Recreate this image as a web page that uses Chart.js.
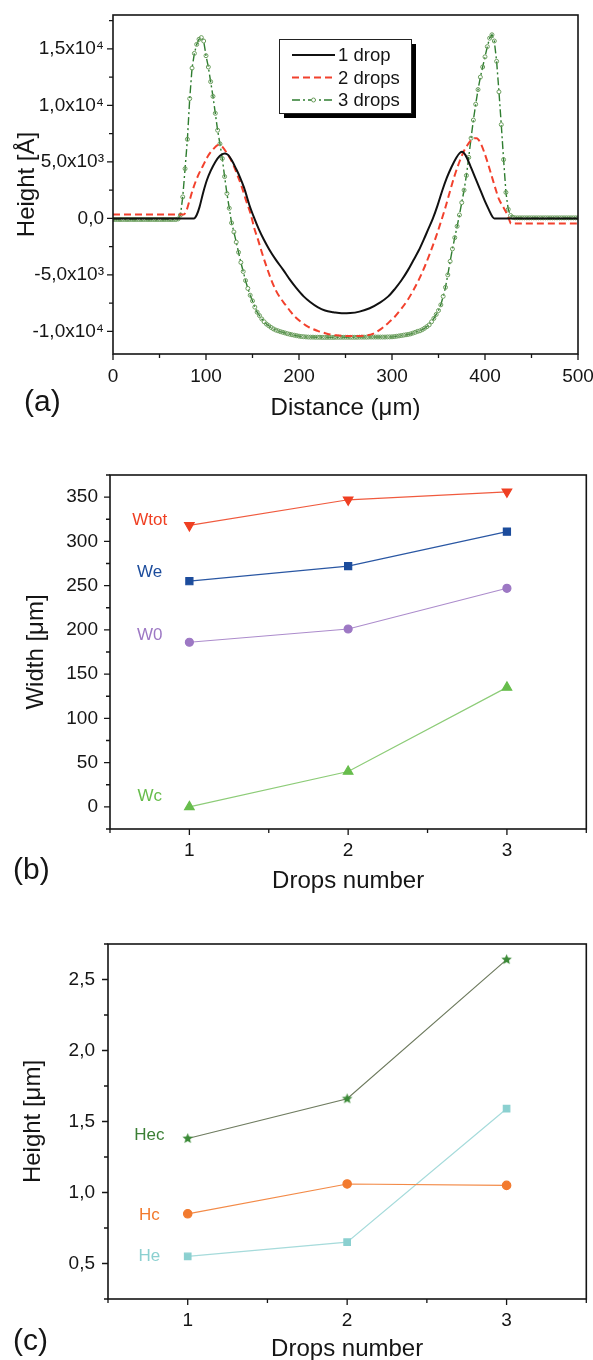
<!DOCTYPE html>
<html>
<head>
<meta charset="utf-8">
<title>Drop profiles and dimensions</title>
<script src="https://cdn.jsdelivr.net/npm/chart.js@4.4.1/dist/chart.umd.min.js"></script>
<style>
  body { margin: 0; background: #fff; }
  canvas { position: absolute; left: 0; }
</style>
</head>
<body>
<canvas id="profileChart" style="top:0" width="593" height="430"></canvas>
<canvas id="widthChart" style="top:440px" width="593" height="460"></canvas>
<canvas id="heightChart" style="top:900px" width="593" height="470"></canvas>
<script>
// (a) surface profiles: [distance µm, height Å]
const drop1 = [
  [0, 0], [40, 0], [80, 0], [87, 0], [90, 300], [93, 1000], [97, 2300], [101, 3400], [105, 4200],
  [110, 5000], [115, 5550], [120, 5750], [124, 5600], [128, 5100], [132, 4450], [136, 3750],
  [141, 2700], [147, 1100], [152, 0], [157, -1000], [162, -1850], [168, -2750], [175, -3650],
  [183, -4550], [190, -5400], [197, -6150], [205, -6900], [212, -7400], [220, -7850], [228, -8150],
  [237, -8300], [246, -8400], [255, -8380], [265, -8250], [276, -7950], [287, -7450], [296, -6900],
  [303, -6250], [310, -5500], [317, -4600], [323, -3700], [329, -2800], [334, -1900], [339, -950],
  [344, 0], [349, 1150], [354, 2450], [359, 3600], [364, 4550], [369, 5350], [373, 5800], [375.5, 5900],
  [379, 5600], [384, 4700], [390, 3500], [395, 2500], [400, 1500], [404, 800], [408, 150], [410, 0],
  [450, 0], [500, 0]
];
const drop2 = [
  [0, 350], [40, 350], [76, 350], [79, 700], [82, 1500], [86, 2600], [91, 3700], [97, 4700],
  [102, 5500], [108, 6150], [113, 6500], [118, 6300], [123, 5700], [128, 5000], [133, 4000],
  [138, 2900], [143, 1600], [148, 400], [152, -900], [156, -1900], [160, -3000], [165, -4250],
  [170, -5400], [175, -6350], [180, -7050], [185, -7600], [190, -8150], [195, -8650], [202, -9150],
  [210, -9600], [220, -9950], [230, -10200], [240, -10350], [250, -10400], [260, -10400],
  [270, -10380], [280, -10200], [288, -9800], [296, -9250], [303, -8700], [310, -8000], [317, -7200],
  [323, -6350], [329, -5400], [335, -4300], [341, -3050], [347, -1700], [352, -450], [357, 850],
  [362, 2300], [367, 3700], [372, 4900], [377, 5900], [382, 6600], [387, 7050], [391, 7100],
  [395, 6700], [399, 5900], [403, 4900], [407, 3800], [411, 2700], [415, 1700], [419, 1100],
  [423, 500], [426, -100], [428, -450], [450, -450], [500, -450]
];
const drop3Dist = [
  0, 2.5, 5, 7.5, 10, 12.5, 15, 17.5, 20, 22.5, 25, 27.5, 30, 32.5, 35, 37.5, 40, 42.5, 45, 47.5,
  50, 52.5, 55, 57.5, 60, 62.5, 65, 67.5, 70, 72.5, 75, 77.5, 80, 82.5, 85, 87.5, 90, 92.5, 95, 97.5,
  100, 102.5, 105, 107.5, 110, 112.5, 115, 117.5, 120, 122.5, 125, 127.5, 130, 132.5, 135, 137.5, 140, 142.5, 145, 147.5,
  150, 152.5, 155, 157.5, 160, 162.5, 165, 167.5, 170, 172.5, 175, 177.5, 180, 182.5, 185, 187.5, 190, 192.5, 195, 197.5,
  200, 202.5, 205, 207.5, 210, 212.5, 215, 217.5, 220, 222.5, 225, 227.5, 230, 232.5, 235, 237.5, 240, 242.5, 245, 247.5,
  250, 252.5, 255, 257.5, 260, 262.5, 265, 267.5, 270, 272.5, 275, 277.5, 280, 282.5, 285, 287.5, 290, 292.5, 295, 297.5,
  300, 302.5, 305, 307.5, 310, 312.5, 315, 317.5, 320, 322.5, 325, 327.5, 330, 332.5, 335, 337.5, 340, 342.5, 345, 347.5,
  350, 352.5, 355, 357.5, 360, 362.5, 365, 367.5, 370, 372.5, 375, 377.5, 380, 382.5, 385, 387.5, 390, 392.5, 395, 397.5,
  400, 402.5, 405, 407.5, 410, 412.5, 415, 417.5, 420, 422.5, 425, 427.5, 430, 432.5, 435, 437.5, 440, 442.5, 445, 447.5,
  450, 452.5, 455, 457.5, 460, 462.5, 465, 467.5, 470, 472.5, 475, 477.5, 480, 482.5, 485, 487.5, 490, 492.5, 495, 497.5,
  500
];
const drop3Height = [
  -100, -100, -100, -100, -100, -100, -100, -100, -100, -100, -100, -100, -100, -100, -100, -100, -100, -100, -100, -100,
  -100, -100, -100, -100, -100, -100, -100, -100, -50, 300, 1900, 4400, 7000, 10600, 13300, 14600, 15400, 15850, 16000, 15700,
  14400, 13400, 12100, 10800, 9300, 7800, 6600, 5300, 3700, 2200, 900, -400, -1200, -2100, -3000, -3900, -4700, -5500, -6200, -6800,
  -7300, -7850, -8300, -8600, -8900, -9150, -9350, -9500, -9650, -9780, -9880, -9950, -10020, -10080, -10140, -10200, -10250, -10300, -10340, -10380,
  -10420, -10450, -10470, -10490, -10500, -10510, -10510, -10520, -10520, -10520, -10530, -10530, -10530, -10530, -10530, -10530, -10520, -10520, -10520, -10520,
  -10520, -10520, -10520, -10520, -10520, -10520, -10510, -10510, -10510, -10510, -10500, -10500, -10500, -10500, -10500, -10500, -10500, -10500, -10490, -10490,
  -10480, -10460, -10430, -10400, -10370, -10330, -10300, -10270, -10220, -10150, -10080, -10000, -9950, -9850, -9720, -9580, -9420, -9150, -8850, -8500,
  -8150, -7650, -6900, -6100, -5000, -3800, -2700, -1700, -700, 300, 1400, 2500, 3800, 5400, 7100, 8700, 10100, 11400, 12500, 13400,
  14300, 15200, 15950, 16250, 15700, 13900, 11200, 8300, 5200, 2300, 800, 250, 100, 50, 50, 50, 50, 50, 50, 50,
  50, 50, 50, 50, 50, 50, 50, 50, 50, 50, 50, 50, 50, 50, 50, 50, 50, 50, 50, 50,
  50
];
const distanceTicks = [0, 100, 200, 300, 400, 500];
const heightTicks = [-10000, -5000, 0, 5000, 10000, 15000];
const heightTickLabels = ['-1,0x10⁴', '-5,0x10³', '0,0', '5,0x10³', '1,0x10⁴', '1,5x10⁴'];

// (b) widths in µm vs number of drops
const drops = [1, 2, 3];
const wTot = [318, 347, 356];
const wE = [255, 272, 311];
const w0 = [186, 201, 247];
const wC = [0, 40, 135];
const widthTicks = [0, 50, 100, 150, 200, 250, 300, 350];

// (c) heights in µm vs number of drops
const hEc = [1.38, 1.66, 2.64];
const hC = [0.85, 1.06, 1.05];
const hE = [0.55, 0.65, 1.59];
const heightUmTicks = [0.5, 1.0, 1.5, 2.0, 2.5];
const heightUmLabels = ['0,5', '1,0', '1,5', '2,0', '2,5'];

const FONT = '"Liberation Sans", Arial, Helvetica, sans-serif';
Chart.defaults.font.family = FONT;
Chart.defaults.color = '#151515';
Chart.defaults.animation = false;

const pairs = (rows) => rows.map(([x, y]) => ({ x, y }));
const series = (xs, ys) => xs.map((x, i) => ({ x, y: ys[i] }));

function starImage(color, r) {
  const c = document.createElement('canvas');
  c.width = c.height = Math.ceil(r * 2 + 2);
  const g = c.getContext('2d');
  g.fillStyle = color;
  g.beginPath();
  for (let i = 0; i < 10; i++) {
    const rad = i % 2 ? r * 0.45 : r;
    const ang = -Math.PI / 2 + (i * Math.PI) / 5;
    g.lineTo(c.width / 2 + rad * Math.cos(ang), c.height / 2 + rad * Math.sin(ang));
  }
  g.closePath();
  g.fill();
  return c;
}

// frame, minor/major tick marks, panel letter, inline series names, boxed legend
function drawTicks(ctx, scale, step, horizontal, edge) {
  const majors = scale.ticks.map((t) => t.value);
  for (let k = Math.ceil(scale.min / step - 1e-9); k * step <= scale.max + 1e-9; k++) {
    const v = k * step;
    const len = majors.some((m) => Math.abs(m - v) < step / 10) ? 6 : 4;
    const p = scale.getPixelForValue(v);
    if (horizontal) { ctx.moveTo(p, edge); ctx.lineTo(p, edge + len); }
    else { ctx.moveTo(edge, p); ctx.lineTo(edge - len, p); }
  }
}

function drawLegend(chart, ctx) {
  const a = chart.chartArea;
  const bx = a.left + 166, by = a.top + 24, bw = 132, bh = 74;
  ctx.fillStyle = '#000';
  ctx.fillRect(bx + 5, by + 5, bw, bh);
  ctx.fillStyle = '#fff';
  ctx.fillRect(bx, by, bw, bh);
  ctx.strokeStyle = '#222';
  ctx.lineWidth = 1;
  ctx.strokeRect(bx + 0.5, by + 0.5, bw, bh);
  chart.data.datasets.forEach((ds, i) => {
    const ly = by + 16 + i * 22.5;
    ctx.strokeStyle = ds.borderColor;
    ctx.lineWidth = ds.borderWidth;
    ctx.setLineDash(ds.borderDash || []);
    ctx.beginPath();
    ctx.moveTo(bx + 13, ly);
    ctx.lineTo(bx + 56, ly);
    ctx.stroke();
    ctx.setLineDash([]);
    if (ds.pointRadius) {
      ctx.strokeStyle = ds.pointBorderColor;
      ctx.fillStyle = '#fff';
      ctx.lineWidth = 1;
      ctx.beginPath();
      ctx.arc(bx + 34.5, ly, ds.pointRadius, 0, Math.PI * 2);
      ctx.fill();
      ctx.stroke();
    }
    ctx.fillStyle = '#151515';
    ctx.font = '18.5px ' + FONT;
    ctx.textAlign = 'left';
    ctx.textBaseline = 'middle';
    ctx.fillText(ds.label, bx + 59, ly + 1);
  });
}

const figurePlugin = {
  id: 'figure',
  afterDatasetsDraw(chart, args, opts) {
    const { ctx, chartArea: a, scales: { x, y } } = chart;
    ctx.save();
    ctx.strokeStyle = '#151515';
    ctx.lineWidth = 1.6;
    ctx.strokeRect(a.left, a.top, a.right - a.left, a.bottom - a.top);
    ctx.lineWidth = 1.3;
    ctx.beginPath();
    drawTicks(ctx, x, opts.xStep, true, a.bottom);
    drawTicks(ctx, y, opts.yStep, false, a.left);
    ctx.stroke();

    (opts.notes || []).forEach((n) => {
      ctx.fillStyle = n.color;
      ctx.font = '17px ' + FONT;
      ctx.textAlign = 'center';
      ctx.textBaseline = 'middle';
      ctx.fillText(n.text, x.getPixelForValue(n.x), y.getPixelForValue(n.y));
    });

    ctx.fillStyle = '#151515';
    ctx.font = '30px ' + FONT;
    ctx.textAlign = 'left';
    ctx.textBaseline = 'alphabetic';
    ctx.fillText(opts.panel, opts.panelX, opts.panelY);

    if (opts.legend) drawLegend(chart, ctx);
    ctx.restore();
  }
};

function axes(o) {
  return {
    x: {
      type: 'linear', min: o.xMin, max: o.xMax,
      grid: { display: false, drawTicks: false },
      border: { display: false },
      afterBuildTicks: (s) => { s.ticks = o.xTicks.map((value) => ({ value })); },
      afterFit: (s) => { s.height = o.xHeight; s.paddingLeft = 0; s.paddingRight = 0; },
      ticks: { font: { size: 19 }, padding: o.xTickPad, maxRotation: 0, autoSkip: false,
        callback: (v, i) => (o.xLabels ? o.xLabels[i] : String(v)) },
      title: { display: true, text: o.xTitle, font: { size: 24 }, padding: { top: 0, bottom: o.xTitlePad } }
    },
    y: {
      type: 'linear', min: o.yMin, max: o.yMax,
      grid: { display: false, drawTicks: false },
      border: { display: false },
      afterBuildTicks: (s) => { s.ticks = o.yTicks.map((value) => ({ value })); },
      afterFit: (s) => { s.width = o.yWidth; s.paddingTop = 0; s.paddingBottom = 0; },
      ticks: { font: { size: 19 }, padding: o.yTickPad, autoSkip: false,
        callback: (v, i) => (o.yLabels ? o.yLabels[i] : String(v)) },
      title: { display: true, text: o.yTitle, font: { size: 24 }, padding: { top: o.yTitlePad, bottom: 0 } }
    }
  };
}

new Chart(document.getElementById('profileChart'), {
  type: 'line',
  data: {
    datasets: [
      { label: '1 drop', data: pairs(drop1), borderColor: '#111', borderWidth: 2, pointRadius: 0,
        cubicInterpolationMode: 'monotone' },
      { label: '2 drops', data: pairs(drop2), borderColor: '#f2412d', borderWidth: 2, borderDash: [7, 4],
        pointRadius: 0, cubicInterpolationMode: 'monotone' },
      { label: '3 drops', data: series(drop3Dist, drop3Height), borderColor: '#2f7d30', borderWidth: 1.4,
        borderDash: [8, 3, 2, 3], pointRadius: 2, pointBorderWidth: 1, pointBorderColor: '#6a9d5c',
        pointBackgroundColor: 'rgba(0,0,0,0)' }
    ]
  },
  options: {
    responsive: false,
    layout: { padding: { top: 15, right: 15, left: 0, bottom: 0 } },
    plugins: {
      legend: { display: false },
      tooltip: { enabled: false },
      figure: { xStep: 50, yStep: 2500, panel: '(a)', panelX: 24, panelY: 411, legend: true }
    },
    scales: axes({
      xMin: 0, xMax: 500, xTicks: distanceTicks, xTitle: 'Distance (μm)', xHeight: 76, xTickPad: 11, xTitlePad: 7,
      yMin: -12000, yMax: 18000, yTicks: heightTicks, yLabels: heightTickLabels, yTitle: 'Height [Å]',
      yWidth: 113, yTickPad: 9, yTitlePad: 13
    })
  },
  plugins: [figurePlugin]
});

new Chart(document.getElementById('widthChart'), {
  type: 'line',
  data: {
    datasets: [
      { label: 'Wtot', data: series(drops, wTot), borderColor: '#f05a3e', borderWidth: 1.2,
        pointStyle: 'triangle', pointRotation: 180, pointRadius: 5.5,
        pointBackgroundColor: '#ef3f22', pointBorderColor: '#ef3f22' },
      { label: 'We', data: series(drops, wE), borderColor: '#2a57a3', borderWidth: 1.2,
        pointStyle: 'rect', pointRadius: 5, pointBackgroundColor: '#1c4c9c', pointBorderColor: '#1c4c9c' },
      { label: 'W0', data: series(drops, w0), borderColor: '#ac8ccc', borderWidth: 1.2,
        pointStyle: 'circle', pointRadius: 4, pointBackgroundColor: '#9d78c4', pointBorderColor: '#9d78c4' },
      { label: 'Wc', data: series(drops, wC), borderColor: '#8dcc78', borderWidth: 1.2,
        pointStyle: 'triangle', pointRadius: 5.5, pointBackgroundColor: '#67bd4c', pointBorderColor: '#67bd4c' }
    ]
  },
  options: {
    responsive: false,
    layout: { padding: { top: 35, right: 1, left: 0, bottom: 0 } },
    plugins: {
      legend: { display: false },
      tooltip: { enabled: false },
      figure: {
        xStep: 0.5, yStep: 25, panel: '(b)', panelX: 13, panelY: 439,
        notes: [
          { text: 'Wtot', x: 0.75, y: 324, color: '#ef3f22' },
          { text: 'We', x: 0.75, y: 265, color: '#1c4c9c' },
          { text: 'W0', x: 0.75, y: 194, color: '#9d78c4' },
          { text: 'Wc', x: 0.75, y: 12, color: '#67bd4c' }
        ]
      }
    },
    scales: axes({
      xMin: 0.5, xMax: 3.5, xTicks: drops, xTitle: 'Drops number', xHeight: 71, xTickPad: 10, xTitlePad: 4,
      yMin: -25, yMax: 375, yTicks: widthTicks, yTitle: 'Width [μm]', yWidth: 110, yTickPad: 12, yTitlePad: 22
    })
  },
  plugins: [figurePlugin]
});

new Chart(document.getElementById('heightChart'), {
  type: 'line',
  data: {
    datasets: [
      { label: 'Hec', data: series(drops, hEc), borderColor: '#6e7b5f', borderWidth: 1.2,
        pointStyle: starImage('#3b8a37', 5.5), pointRadius: 5.5 },
      { label: 'Hc', data: series(drops, hC), borderColor: '#f38a47', borderWidth: 1.2,
        pointStyle: 'circle', pointRadius: 4.2, pointBackgroundColor: '#f27a2e', pointBorderColor: '#f27a2e' },
      { label: 'He', data: series(drops, hE), borderColor: '#a6dbdb', borderWidth: 1.2,
        pointStyle: 'rect', pointRadius: 4.6, pointBackgroundColor: '#8bd0d0', pointBorderColor: '#8bd0d0' }
    ]
  },
  options: {
    responsive: false,
    layout: { padding: { top: 44, right: 1, left: 0, bottom: 0 } },
    plugins: {
      legend: { display: false },
      tooltip: { enabled: false },
      figure: {
        xStep: 0.5, yStep: 0.25, panel: '(c)', panelX: 13, panelY: 450,
        notes: [
          { text: 'Hec', x: 0.76, y: 1.40, color: '#3b7f35' },
          { text: 'Hc', x: 0.76, y: 0.84, color: '#f27a2e' },
          { text: 'He', x: 0.76, y: 0.55, color: '#8bd0d0' }
        ]
      }
    },
    scales: axes({
      xMin: 0.5, xMax: 3.5, xTicks: drops, xTitle: 'Drops number', xHeight: 71, xTickPad: 10, xTitlePad: 6,
      yMin: 0.25, yMax: 2.75, yTicks: heightUmTicks, yLabels: heightUmLabels, yTitle: 'Height [μm]',
      yWidth: 108, yTickPad: 13, yTitlePad: 19
    })
  },
  plugins: [figurePlugin]
});
</script>
</body>
</html>
